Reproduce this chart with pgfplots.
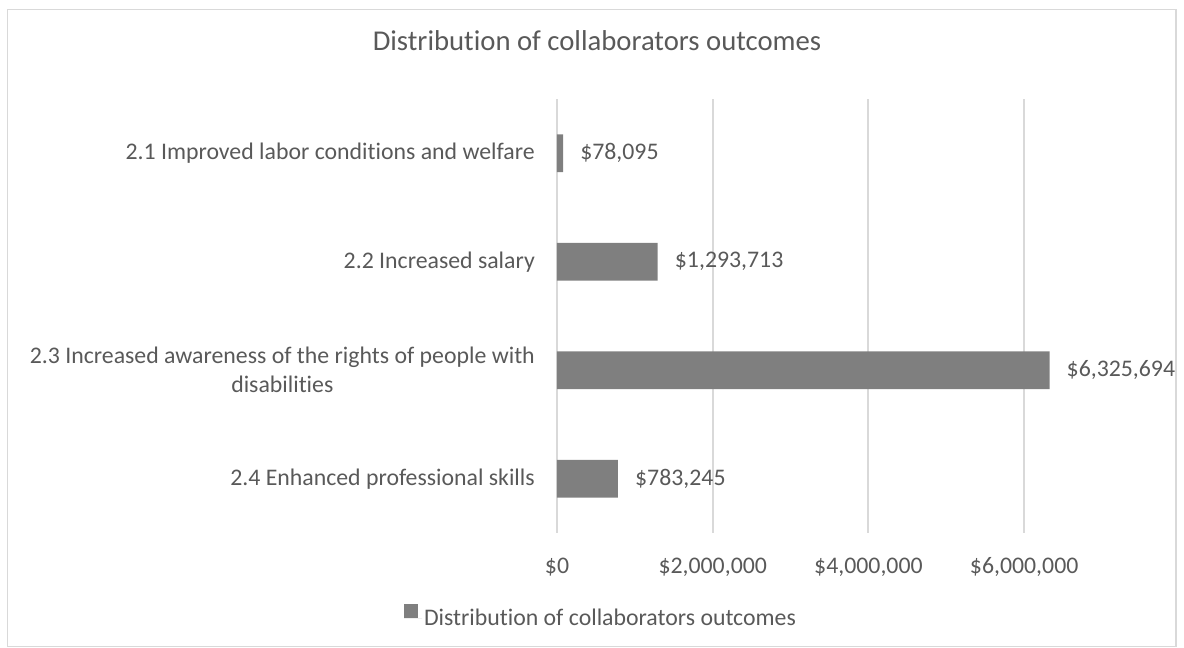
\documentclass[border=0pt]{standalone}
\usepackage{pgfplots}
\pgfplotsset{compat=1.18}
\usepackage{fontspec}
\setmainfont{Carlito}[Ligatures={NoCommon}]
\definecolor{txt}{HTML}{595959}
\definecolor{gridc}{HTML}{D9D9D9}
\definecolor{barc}{HTML}{7F7F7F}
\begin{document}
\begin{tikzpicture}[x=1pt,y=1pt]
\path (0,0) rectangle (1184,648);
\draw[gridc, line width=1.3pt] (7.5,1.5) rectangle (1176,638.5);
\begin{axis}[
  at={(557pt,115pt)}, anchor=south west,
  scale only axis, width=545pt, height=434pt,
  xbar, bar width=37.7pt,
  xmin=0, xmax=7000000, ymin=0.5, ymax=4.5, y dir=reverse,
  axis line style={draw=none},
  xtick={0,2000000,4000000,6000000},
  xticklabels={{\$0},{\$2,000,000},{\$4,000,000},{\$6,000,000}},
  ytick={1,2,3,4},
  yticklabels={{2.1 Improved labor conditions and welfare},{2.2 Increased salary},{2.3 Increased awareness of the rights of people with\\disabilities},{2.4 Enhanced professional skills}},
  yticklabel style={align=center, anchor=east, inner sep=0pt, xshift=-22pt, font=\fontsize{23.8}{29}\selectfont, text=txt},
  xticklabel style={anchor=base, inner sep=0pt, yshift=-40pt, font=\fontsize{23.8}{29}\selectfont, text=txt},
  major tick length=0pt,
  tick style={draw=none},
  xmajorgrids,
  major grid style={gridc, line width=2pt},
  scaled x ticks=false,
  nodes near coords,
  point meta=explicit symbolic,
  every node near coord/.append style={anchor=west, inner sep=0pt, xshift=17pt, font=\fontsize{23.8}{29}\selectfont, text=txt},
  title={Distribution of collaborators outcomes},
  title style={at={(axis description cs:0.0734,1.0968)}, anchor=base, inner sep=0pt, font=\fontsize{28.7}{34}\selectfont, text=txt},
  legend style={at={(axis description cs:0.0807,-0.1935)}, anchor=center, draw=none, fill=none, inner sep=0pt, font=\fontsize{23.8}{29}\selectfont, text=txt, nodes={inner sep=2pt}},
  legend image code/.code={\fill[barc] (0pt,0pt) rectangle (14pt,14pt); \path (0pt,0pt) -- (18pt,0pt);},
]
\addplot[fill=barc, draw=none] coordinates {(78095,1) [\$78,095] (1293713,2) [\$1,293,713] (6325694,3) [\$6,325,694] (783245,4) [\$783,245]};
\addlegendentry{Distribution of collaborators outcomes}
\end{axis}
\end{tikzpicture}
\end{document}
